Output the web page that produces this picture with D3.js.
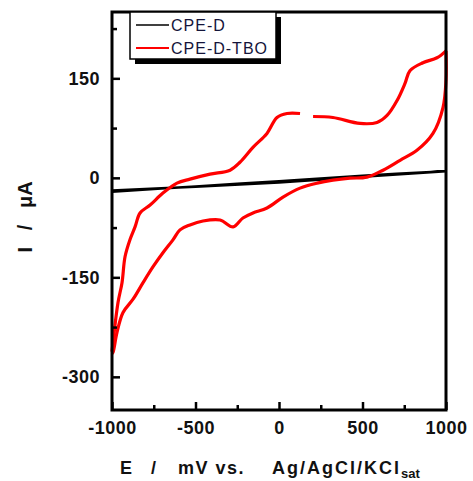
<!DOCTYPE html>
<html>
<head>
<meta charset="utf-8">
<script src="https://cdn.jsdelivr.net/npm/d3@7"></script>
<style>
	body { margin: 0; background: #fff; }
	svg { font-family: "Liberation Sans", Arial, sans-serif; }
	.tick text { font-weight: bold; font-size: 18px; fill: #111; letter-spacing: 0.5px; }
</style>
</head>
<body>
<div id="chart"></div>
<script>
// CPE-D-TBO voltammogram, anodic sweep (-1000 -> 1000 mV); null = gap in the trace
const eForward = [-1000, -964, -940, -922, -892, -862, -832, -772, -695, -611, -533, -413, -293, -234, -156, -72, -12, 48, 126, 165, 204, 323, 485, 587, 647, 707, 754, 784, 862, 946, 1000];
const iForward = [-262, -188, -158, -119, -93, -74, -53, -41, -23, -8, -2, 5.5, 11.5, 23.5, 46, 67, 91, 97, 97, null, 92.5, 91, 82, 83.5, 94, 116.5, 142, 161.5, 173.5, 181, 191.5];
// cathodic sweep (1000 -> -1000 mV)
const eReverse = [1000, 1000, 982, 922, 826, 725, 623, 527, 425, 323, 228, 126, 24, -72, -156, -216, -275, -353, -455, -533, -593, -635, -695, -754, -814, -874, -934, -970, -994, -1000];
const iReverse = [191.5, 146.5, 106, 67, 41.5, 26.5, 11.5, 1, -0.5, -3.5, -8, -15.5, -29, -45.5, -53, -60.5, -74, -63.5, -65, -71, -78.5, -93.5, -113, -134, -158, -183, -203, -233, -263, -265];
// bare CPE-D, nearly straight
const eBlank = [-1000, -500, 0, 500, 1000, 500, 0, -500, -1000];
const iBlank = [-21, -13, -5, 3, 10, 1.5, -7, -13.5, -19];

const seriesNames = ["CPE-D", "CPE-D-TBO"];
const seriesColors = ["#000000", "#ff0000"];
const xMajor = [-1000, -500, 0, 500, 1000];
const xMinor = [-750, -250, 250, 750];
const yMajor = [-300, -150, 0, 150];
const yMinor = [-225, -75, 75, 225];

const W = 473, H = 481;
const svg = d3.select("#chart").append("svg").attr("width", W).attr("height", H);

const x = d3.scaleLinear().domain([-1000, 1000]).range([112, 446]);
const y = d3.scaleLinear().domain([-350, 250]).range([410, 12]);

const zip = (es, is) => es.map((e, k) => ({ e: e, i: is[k] }));

const line = d3.line()
	.defined(d => d.i !== null)
	.curve(d3.curveCatmullRom.alpha(0.5))
	.x(d => x(d.e))
	.y(d => y(d.i));

const plot = svg.append("g");

// blank electrode
plot.append("path")
	.datum(zip(eBlank, iBlank))
	.attr("fill", "none")
	.attr("stroke", seriesColors[0])
	.attr("stroke-width", 2.5)
	.attr("d", line);

// TBO modified electrode
[zip(eForward, iForward), zip(eReverse, iReverse)].forEach(seg => {
	plot.append("path")
		.datum(seg)
		.attr("fill", "none")
		.attr("stroke", seriesColors[1])
		.attr("stroke-width", 3.2)
		.attr("stroke-linejoin", "round")
		.attr("d", line);
});

// axes, ticks pointing inward
svg.append("g").attr("transform", `translate(0,${y(-350)})`)
	.call(d3.axisBottom(x).tickValues(xMajor).tickSize(-8).tickPadding(11).tickFormat(d3.format("d")));
svg.append("g").attr("transform", `translate(0,${y(-350)})`)
	.call(d3.axisBottom(x).tickValues(xMinor).tickSize(-5).tickFormat(""));
svg.append("g").attr("transform", `translate(${x(-1000)},0)`)
	.call(d3.axisLeft(y).tickValues(yMajor).tickSize(-8).tickPadding(12).tickFormat(d3.format("d")));
svg.append("g").attr("transform", `translate(${x(-1000)},0)`)
	.call(d3.axisLeft(y).tickValues(yMinor).tickSize(-5).tickFormat(""));

svg.selectAll(".domain").remove();
svg.selectAll(".tick line").attr("stroke", "#000").attr("stroke-width", 2.5);
svg.selectAll(".tick text").text(function() { return this.textContent.replace("−", "-"); });

// frame
svg.append("rect")
	.attr("x", x(-1000)).attr("y", y(250))
	.attr("width", x(1000) - x(-1000)).attr("height", y(-350) - y(250))
	.attr("fill", "none").attr("stroke", "#000").attr("stroke-width", 3);

// legend with drop shadow
const lg = svg.append("g").attr("transform", "translate(130,12)");
lg.append("rect").attr("x", 5).attr("y", 5).attr("width", 146).attr("height", 47).attr("fill", "#000");
lg.append("rect").attr("x", 0).attr("y", 0).attr("width", 146).attr("height", 47)
	.attr("fill", "#fff").attr("stroke", "#000").attr("stroke-width", 1.5);
seriesNames.forEach((name, k) => {
	const cy = 13 + k * 23;
	lg.append("line").attr("x1", 6).attr("x2", 39).attr("y1", cy).attr("y2", cy)
		.attr("stroke", seriesColors[k]).attr("stroke-width", k ? 2 : 1.6);
	lg.append("text").attr("x", 41).attr("y", cy + 6)
		.attr("font-size", 16).attr("letter-spacing", 1).attr("fill", "#14143a")
		.text(name);
});

// axis titles
const xt = svg.append("text")
	.attr("y", 474)
	.attr("font-size", 18).attr("font-weight", "bold").attr("fill", "#111");
xt.append("tspan").attr("x", 120).text("E");
xt.append("tspan").attr("x", 151).text("/");
xt.append("tspan").attr("x", 178).attr("letter-spacing", 1.5).text("mV vs.");
xt.append("tspan").attr("x", 272).attr("letter-spacing", 2).text("Ag/AgCl/KCl");
xt.append("tspan").attr("font-size", 13).attr("dy", 4).text("sat");

svg.append("text")
	.attr("transform", "translate(32,217) rotate(-90)")
	.attr("text-anchor", "middle")
	.attr("font-size", 20).attr("font-weight", "bold").attr("fill", "#111")
	.style("white-space", "pre")
	.text("I   /   μA");
</script>
</body>
</html>
